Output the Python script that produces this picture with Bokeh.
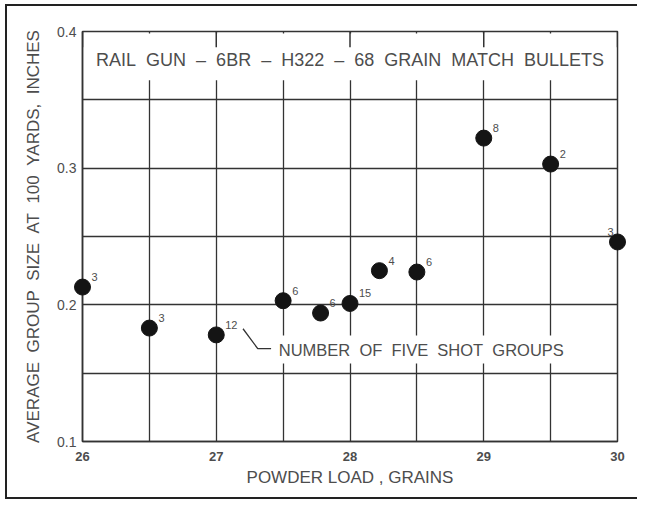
from bokeh.plotting import figure
from bokeh.layouts import column
from bokeh.models import FixedTicker, Label, ColumnDataSource, Range1d
from bokeh.core.properties import value
from bokeh.embed import file_html
from bokeh.resources import INLINE

# ---- data ----
powder_load = [26.0, 26.5, 27.0, 27.5, 27.78, 28.0, 28.22, 28.5, 29.0, 29.5, 30.0]
group_size = [0.213, 0.183, 0.178, 0.203, 0.194, 0.201, 0.225, 0.224, 0.322, 0.303, 0.246]
n_groups = ["3", "3", "12", "6", "6", "15", "4", "6", "8", "2", "3"]

x_ticks = [26, 27, 28, 29, 30]
y_ticks = [0.1, 0.2, 0.3, 0.4]
x_grid = [26.5, 27, 27.5, 28, 28.5, 29, 29.5]
y_grid = [0.15, 0.2, 0.25, 0.3, 0.35]

title_text = "RAIL\u00a0\u00a0GUN\u00a0\u00a0\u2013\u00a0\u00a06BR\u00a0\u00a0\u2013\u00a0\u00a0H322\u00a0\u00a0\u2013\u00a0\u00a068\u00a0\u00a0GRAIN\u00a0\u00a0MATCH\u00a0\u00a0BULLETS"
y_label = "AVERAGE\u00a0\u00a0GROUP\u00a0\u00a0SIZE\u00a0\u00a0AT\u00a0\u00a0100\u00a0\u00a0YARDS,\u00a0\u00a0INCHES"
x_label = "POWDER\u00a0LOAD\u00a0,\u00a0GRAINS"
note_text = "NUMBER\u00a0\u00a0OF\u00a0\u00a0FIVE\u00a0\u00a0SHOT\u00a0\u00a0GROUPS"

FONT = "Liberation Sans"
INK = "#333333"
TXT = "#4d4d4d"

x_min, x_max = 26, 30
y_min, y_max = 0.1, 0.4

p = figure(width=630, height=491, output_backend="svg", toolbar_location=None,
           x_range=Range1d(x_min, x_max), y_range=Range1d(y_min, y_max),
           min_border_left=75, min_border_right=20, min_border_top=25, min_border_bottom=56)
p.background_fill_color = "white"
p.border_fill_color = "white"
p.outline_line_color = INK
p.outline_line_width = 1.5

# grid
p.xgrid.ticker = FixedTicker(ticks=x_grid)
p.ygrid.ticker = FixedTicker(ticks=y_grid)
for g in (p.xgrid, p.ygrid):
    g.grid_line_color = INK
    g.grid_line_width = 1.3
    g.grid_line_alpha = 1.0

# axes
p.xaxis.ticker = FixedTicker(ticks=x_ticks)
p.yaxis.ticker = FixedTicker(ticks=y_ticks)
for ax in (p.xaxis, p.yaxis):
    ax.major_tick_out = 0
    ax.major_tick_in = 0
    ax.minor_tick_out = 0
    ax.minor_tick_in = 0
    ax.axis_line_color = INK
    ax.axis_line_width = 1.5
    ax.major_label_text_color = TXT
    ax.axis_label_text_color = TXT
    ax.axis_label_text_font = FONT
    ax.axis_label_text_font_style = "normal"
    ax.axis_label_text_font_size = "17px"
p.xaxis.axis_label = x_label
p.yaxis.axis_label = y_label
p.xaxis.major_label_text_font = FONT
p.xaxis.major_label_text_font_style = "bold"
p.xaxis.major_label_text_font_size = "13px"
p.xaxis.major_label_standoff = 10
p.xaxis.axis_label_standoff = 4
p.yaxis.major_label_text_font = FONT
p.yaxis.major_label_text_font_size = "14px"
p.yaxis.major_label_standoff = 6
p.yaxis.axis_label_standoff = 11
p.yaxis.axis_label_text_font_size = "17px"
p.yaxis.major_label_overrides = {0.1: "0.1", 0.2: "0.2", 0.3: "0.3", 0.4: "0.4"}

# white band behind title (masks grid)
band_bottom = 0.3643
band_top = 0.3985
p.quad(left=[x_min + 0.01], right=[x_max - 0.01], bottom=[band_bottom], top=[band_top],
       fill_color="white", line_color=None)

# short stubs at whole grains along the top edge
stub_bottom = 0.3884
p.segment(x0=x_ticks, y0=[y_max] * len(x_ticks), x1=x_ticks, y1=[stub_bottom] * len(x_ticks),
          line_color=INK, line_width=1.5)

p.add_layout(Label(x=(x_min + x_max) / 2, y=0.3789, text=title_text, text_align="center",
                   text_baseline="middle", text_font=FONT, text_font_size="18px",
                   text_color=TXT))

# note with leader
leader_x = [27.2, 27.31, 27.41]
leader_y = [0.1825, 0.168, 0.168]
p.line(leader_x, leader_y, line_color=INK, line_width=1.3)
p.add_layout(Label(x=27.43, y=0.1673, text=note_text, text_align="left",
                   text_baseline="middle", text_font=FONT, text_font_size="16.5px",
                   text_color=TXT, background_fill_color="white", padding=5))

# data
src = ColumnDataSource(dict(
    x=powder_load, y=group_size, n=n_groups,
    align=["right" if v == max(powder_load) else "left" for v in powder_load],
    dx=[-4 if v == max(powder_load) else 9 for v in powder_load],
))
r = p.scatter("x", "y", source=src, size=16, fill_color="#141414", line_color="#141414")
r.level = "overlay"
t = p.text("x", "y", text="n", source=src, x_offset="dx", y_offset=-6,
           text_align="align", text_baseline="bottom", text_font=value(FONT),
           text_font_size="11px", text_color=TXT)
t.level = "overlay"

# outer drawing frame (left, top, bottom; the right side runs off the sheet)
layout = column(p, styles={"margin-left": "5px", "margin-top": "4px",
                           "border-left": "2px solid #222", "border-top": "2px solid #222",
                           "border-bottom": "2px solid #222"})

open("out.html", "w").write(file_html(layout, INLINE))
